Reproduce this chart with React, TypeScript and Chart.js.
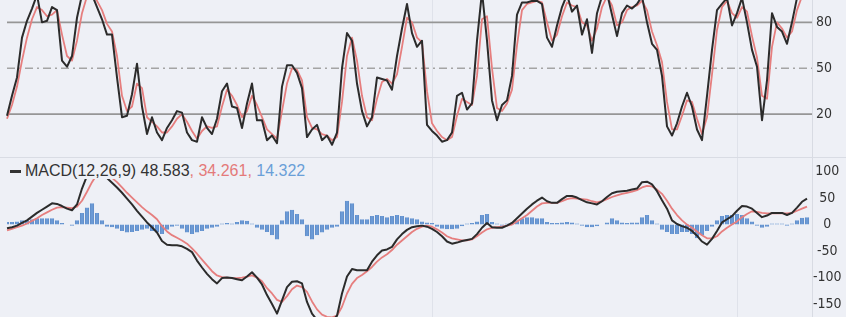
import React, { useEffect, useRef } from 'react';
import { Chart, registerables } from 'chart.js';
Chart.register(...registerables);

// ---------- data ----------
const stochK = [19,32,44,70,81,89,98,80,81,90,
 88,55,51,58,83,98,100,98,90,82,
 72,72,44,18,19,33,53,25,7,18,
 8,3,11,16,22,21,8,3,2,18,
 11,7,17,35,40,25,24,11,27,40,
 16,16,3,6,1,38,52,52,47,37,
 5,10,13,3,6,0,8,50,73,68,
 40,22,12,18,44,43,42,36,58,76,
 92,73,64,68,13,9,6,2,3,8,
 32,34,23,27,68,100,68,29,16,26,
 29,45,85,93,93,94,94,92,70,64,
 78,90,98,87,91,72,82,60,86,97,
 99,85,71,86,91,89,92,97,80,66,
 62,45,12,6,14,25,34,25,10,3,
 32,62,88,92,96,78,86,96,80,62,
 51,16,42,86,77,74,66,80,96,100,
 100];

const stochD = [17,26,38,55,70,82,90,88,84,85,
 88,72,58,55,68,86,97,98,94,88,
 79,74,58,32,22,25,40,37,18,15,
 12,8,8,12,17,20,15,9,4,9,
 12,11,12,25,36,32,26,18,22,32,
 26,18,10,7,4,22,40,50,49,42,
 18,11,10,7,6,3,5,28,58,70,
 55,32,18,16,30,41,43,40,46,64,
 83,80,70,67,35,14,9,5,3,5,
 19,30,28,26,45,82,84,50,24,22,
 27,36,65,88,92,93,94,93,80,68,
 72,84,93,91,90,80,78,68,76,90,
 97,91,78,80,88,90,91,94,88,74,
 65,54,28,10,10,19,29,28,17,7,
 18,46,75,90,94,86,83,90,87,71,
 57,32,30,64,80,76,70,74,88,97,
 100];

const macdLine = [-7,-5,-2,3,8,15,22,28,34,40,
 39,35,30,27,38,68,92,102,106,100,
 88,79,70,60,49,38,26,15,4,-5,
 -15,-31,-38,-39,-39,-41,-46,-52,-68,-81,
 -93,-103,-111,-101,-100,-101,-103,-105,-98,-90,
 -100,-113,-133,-150,-168,-143,-118,-108,-107,-111,
 -146,-168,-180,-185,-185,-182,-172,-130,-98,-84,
 -86,-86,-86,-70,-58,-49,-47,-42,-28,-18,
 -10,-5,-3,-2,-4,-8,-14,-22,-32,-36,
 -34,-31,-29,-27,-18,-6,3,-5,-6,-6,
 -2,3,12,21,30,38,45,51,44,41,
 41,48,54,54,51,46,42,40,38,44,
 52,59,62,63,64,66,68,80,81,76,
 63,46,30,8,1,-3,-6,-12,-21,-32,
 -38,-27,-12,4,10,16,26,35,34,30,
 22,14,17,22,22,22,18,22,32,43,
 49];

const signalLine = [-11,-8,-5,-2,2,7,12,18,23,28,
 32,33,32,31,34,45,62,80,95,100,
 96,88,80,70,60,51,42,33,25,18,
 10,-3,-13,-20,-25,-30,-36,-45,-55,-66,
 -77,-88,-96,-99,-100,-101,-101,-100,-98,-96,
 -100,-107,-120,-130,-142,-146,-135,-122,-115,-118,
 -127,-145,-160,-170,-174,-175,-172,-155,-130,-112,
 -101,-95,-88,-80,-70,-62,-56,-48,-38,-30,
 -22,-14,-8,-4,-2,-4,-9,-15,-22,-26,
 -28,-30,-30,-28,-22,-15,-9,-6,-5,-4,
 -2,0,6,12,18,26,34,40,41,41,
 41,44,48,50,49,48,47,44,42,44,
 48,52,55,58,60,62,65,70,73,72,
 66,58,45,30,18,8,0,-6,-13,-20,
 -26,-26,-22,-13,-6,0,6,14,20,25,
 24,22,21,21,21,21,21,22,26,30,
 34];

const histogram = [5,5,6,8,8,10,12,12,12,12,
 8,3,0,-2,8,22,32,40,22,8,
 -4,-5,-8,-12,-15,-14,-12,-10,-8,-12,
 -15,-18,-10,-4,-2,-8,-15,-18,-15,-12,
 -8,-6,-4,2,3,2,5,8,7,2,
 -6,-10,-14,-20,-28,8,25,28,20,10,
 -22,-28,-20,-15,-10,-6,-4,25,45,40,
 18,10,10,16,18,16,14,16,18,16,
 14,12,10,6,4,3,-4,-8,-9,-9,
 -8,-3,2,3,6,18,20,5,2,-2,
 2,4,8,12,14,14,12,12,5,3,
 3,4,5,4,2,-2,-5,-5,-3,0,
 4,12,8,4,3,4,4,14,18,8,
 2,-10,-14,-18,-18,-14,-14,-18,-26,-20,
 -12,-4,8,16,18,18,20,18,12,6,
 -2,-6,-4,2,2,2,-2,2,8,13,
 14];

const dayLabels = stochK.map((_, i) => 'D' + (i + 1)).concat(['']);
const stochTicks = [20, 50, 80];
const stochSolidLevels = [20, 80];
const stochMidLevel = 50;
const macdTicks = [100, 50, 0, -50, -100, -150];
const monthMarks = ['D86', 'D147'];
const macdTitle = 'MACD(12,26,9)';
const macdValue = '48.583';
const signalValue = '34.261';
const histValue = '14.322';

// ---------- styles ----------
const BG = '#eef0f6';
const TICK_FONT = { family: "'Liberation Sans Narrow', 'DejaVu Sans Condensed', 'Liberation Sans', sans-serif", size: 14 };

const guides = {
  id: 'guides',
  beforeDatasetsDraw(chart: any, _args: any, opts: any) {
    const { ctx, chartArea, scales } = chart;
    ctx.save();
    (opts.vMarks || []).forEach((lab: string) => {
      const px = Math.round(scales.x.getPixelForValue(dayLabels.indexOf(lab))) + 0.5;
      ctx.strokeStyle = '#dfe2ea';
      ctx.lineWidth = 1;
      ctx.setLineDash([]);
      ctx.beginPath();
      ctx.moveTo(px, chartArea.top);
      ctx.lineTo(px, chartArea.bottom);
      ctx.stroke();
    });
    (opts.lines || []).forEach((l: any) => {
      const py = scales.y.getPixelForValue(l.value);
      ctx.strokeStyle = l.color;
      ctx.lineWidth = l.width;
      ctx.setLineDash(l.dash || []);
      ctx.beginPath();
      ctx.moveTo(chartArea.left, py);
      ctx.lineTo(chartArea.right, py);
      ctx.stroke();
    });
    ctx.restore();
  },
};

function yAxis(min: number, max: number, ticks: number[], pad: number) {
  return {
    position: 'right',
    min,
    max,
    grid: { display: false, drawTicks: false },
    border: { display: true, color: '#d8dbe3', width: 1 },
    afterBuildTicks: (s: any) => { s.ticks = ticks.map((v) => ({ value: v })); },
    afterFit: (s: any) => { s.width = 34; s.paddingTop = 0; s.paddingBottom = 0; },
    ticks: {
      font: TICK_FONT,
      color: '#333',
      padding: pad,
      crossAlign: 'center',
      autoSkip: false,
      callback: (v: any) => String(v),
    },
  };
}

export default function App() {
  const topRef = useRef<HTMLCanvasElement>(null);
  const botRef = useRef<HTMLCanvasElement>(null);

  useEffect(() => {
    const top = new Chart(topRef.current as HTMLCanvasElement, {
      type: 'line',
      data: {
        labels: dayLabels,
        datasets: [
          { data: stochK, borderColor: '#2b2b2b', borderWidth: 2, pointRadius: 0, tension: 0, borderJoinStyle: 'round' },
          { data: stochD, borderColor: '#e67e7e', borderWidth: 1.8, pointRadius: 0, tension: 0, borderJoinStyle: 'round' },
        ],
      },
      options: {
        animation: false,
        responsive: false,
        events: [],
        layout: { padding: { left: 7, right: 0, top: 0, bottom: 0 } },
        plugins: {
          legend: { display: false },
          tooltip: { enabled: false },
          guides: {
            vMarks: monthMarks,
            lines: [
              ...stochSolidLevels.map((v) => ({ value: v, color: '#969696', width: 1.7 })),
              { value: stochMidLevel, color: '#a4a4a4', width: 1.5, dash: [8, 4, 2, 4] },
            ],
          },
        } as any,
        scales: {
          x: { display: false, offset: false },
          y: yAxis(-8, 94.6, stochTicks, 4) as any,
        },
      },
      plugins: [guides],
    });

    const bot = new Chart(botRef.current as HTMLCanvasElement, {
      type: 'bar',
      data: {
        labels: dayLabels,
        datasets: [
          { type: 'line', data: macdLine, borderColor: '#2b2b2b', borderWidth: 2, pointRadius: 0, tension: 0, order: 1, borderJoinStyle: 'round' } as any,
          { type: 'line', data: signalLine, borderColor: '#e67e7e', borderWidth: 1.8, pointRadius: 0, tension: 0, order: 2, borderJoinStyle: 'round' } as any,
          { type: 'bar', data: histogram, backgroundColor: '#6b9ad6', borderColor: '#4f82c4', borderWidth: { left: 1, right: 1, top: 0, bottom: 0 }, barPercentage: 0.85, categoryPercentage: 1, order: 3 } as any,
        ],
      },
      options: {
        animation: false,
        responsive: false,
        events: [],
        layout: { padding: { left: 7, right: 0, top: 0, bottom: 0 } },
        plugins: {
          legend: { display: false },
          tooltip: { enabled: false },
          guides: { vMarks: monthMarks, lines: [] },
        } as any,
        scales: {
          x: { display: false, offset: false },
          y: yAxis(-174.4, 125.6, macdTicks, 1) as any,
        },
      },
      plugins: [guides],
    });

    return () => { top.destroy(); bot.destroy(); };
  }, []);

  return (
    <div style={{ position: 'fixed', left: 0, top: 0, width: 846, height: 317, background: BG, overflow: 'hidden' }}>
      <canvas ref={topRef} width={846} height={157} style={{ position: 'absolute', left: 0, top: 0 }} />
      <div style={{ position: 'absolute', left: 0, top: 157, width: 846, height: 1, background: '#d9dce4' }} />
      <canvas ref={botRef} width={846} height={159} style={{ position: 'absolute', left: 0, top: 158 }} />
      <div
        style={{
          position: 'absolute',
          left: 8,
          top: 162,
          background: BG,
          fontFamily: "'Liberation Sans', Arial, sans-serif",
          fontSize: 16,
          lineHeight: '17px',
          color: '#333',
          whiteSpace: 'nowrap',
          padding: '0 2px',
        }}
      >
        <span style={{ display: 'inline-block', width: 11, height: 3, background: '#333', verticalAlign: 'middle', marginRight: 4 }} />
        <span>{macdTitle} {macdValue}</span>
        <span style={{ color: '#e47a7a' }}>, {signalValue},</span>
        <span style={{ color: '#6a9fd8' }}> {histValue}</span>
      </div>
    </div>
  );
}
